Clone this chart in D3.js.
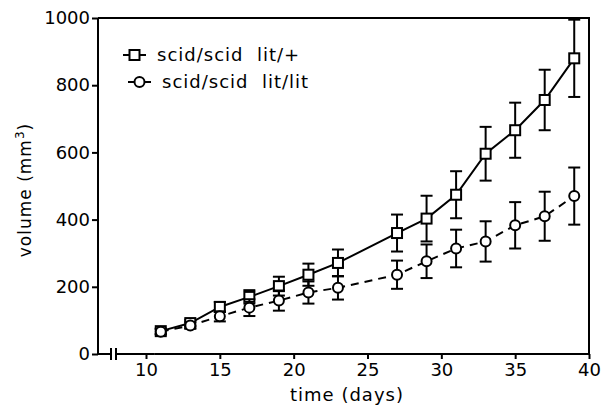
<!DOCTYPE html>
<html>
<head>
<meta charset="utf-8">
<script src="https://cdn.jsdelivr.net/npm/d3@7"></script>
<style>
  body { margin: 0; background: #fff; }
  svg { display: block; }
  text { font-family: "DejaVu Sans", sans-serif; fill: #000; }
</style>
</head>
<body>
<div id="chart"></div>
<script>
// datos
const days = [11, 13, 15, 17, 19, 21, 23, 27, 29, 31, 33, 35, 37, 39];
const litPlus = [68, 92, 140, 170, 202, 236, 271, 360, 403, 474, 596, 666, 756, 880];
const litPlusErr = [8, 10, 15, 20, 28, 33, 40, 55, 68, 70, 80, 82, 90, 115];
const litLit = [66, 85, 112, 138, 159, 183, 197, 236, 276, 314, 335, 383, 410, 470];
const litLitErr = [8, 10, 15, 25, 30, 33, 35, 42, 50, 56, 60, 69, 73, 85];
const xTicks = [10, 15, 20, 25, 30, 35, 40];
const yTicks = [0, 200, 400, 600, 800, 1000];
const legendLabels = ["scid/scid  lit/+", "scid/scid  lit/lit"];

const W = 605, H = 407;
const svg = d3.select("#chart").append("svg").attr("width", W).attr("height", H);

const x = d3.scaleLinear().domain([10, 40]).range([146, 589]);
const y = d3.scaleLinear().domain([0, 1000]).range([354, 18]);
const axisX = x(10) - 48; // eje Y desplazado (con corte en el eje X)

// eje Y
const gy = svg.append("g").attr("transform", `translate(${axisX},0)`)
  .call(d3.axisLeft(y).tickValues(yTicks).tickSize(6).tickPadding(2).tickFormat(d3.format("d")));
gy.select(".domain").attr("d", `M0,${y(0)}V${y(1000)}`);

// eje X
const gx = svg.append("g").attr("transform", `translate(0,${y(0)})`)
  .call(d3.axisBottom(x).tickValues(xTicks).tickSize(5).tickPadding(4));
gx.select(".domain").attr("d", `M${x(10.6)},0H${x(40)}`);

[gx, gy].forEach(g => {
  g.selectAll("path, line").attr("stroke", "#000").attr("stroke-width", 2);
  g.selectAll("text").style("font-size", "18px").attr("fill", "#000");
});

// tramo inicial del eje X y marcas del corte
const brk = svg.append("g").attr("stroke", "#000").attr("stroke-width", 2);
brk.append("line").attr("x1", axisX).attr("x2", axisX + 13).attr("y1", y(0)).attr("y2", y(0));
brk.append("line").attr("x1", axisX + 13).attr("x2", axisX + 13).attr("y1", y(0) - 6).attr("y2", y(0) + 6);
brk.append("line").attr("x1", axisX + 18).attr("x2", axisX + 18).attr("y1", y(0) - 6).attr("y2", y(0) + 6);
brk.append("line").attr("x1", axisX + 18).attr("x2", x(10.6)).attr("y1", y(0)).attr("y2", y(0));

// marco superior y derecho
svg.append("path")
  .attr("d", `M${axisX},${y(1000)}H${x(40)}V${y(0)}`)
  .attr("fill", "none").attr("stroke", "#000").attr("stroke-width", 2);

// títulos de ejes
svg.append("text").attr("x", 347).attr("y", 401).attr("text-anchor", "middle")
  .style("font-size", "18px").style("letter-spacing", "1px").text("time (days)");
const yl = svg.append("text").attr("transform", "translate(31,190) rotate(-90)")
  .attr("text-anchor", "middle").style("font-size", "17px").style("letter-spacing", "1px");
yl.append("tspan").text("volume (mm");
yl.append("tspan").attr("dy", -7).style("font-size", "12px").text("3");
yl.append("tspan").attr("dy", 7).text(")");

const series = [
  { vals: litPlus, err: litPlusErr, dash: null, shape: "square" },
  { vals: litLit, err: litLitErr, dash: "8,6", shape: "circle" }
];

const line = d3.line().x((d, i) => x(days[i])).y(d => y(d));

series.forEach(s => {
  const g = svg.append("g");
  g.append("path").datum(s.vals).attr("d", line)
    .attr("fill", "none").attr("stroke", "#000").attr("stroke-width", 2)
    .attr("stroke-dasharray", s.dash);

  // barras de error
  const eb = g.selectAll(".eb").data(s.vals).enter().append("g")
    .attr("stroke", "#000").attr("stroke-width", 2);
  eb.append("line")
    .attr("x1", (d, i) => x(days[i])).attr("x2", (d, i) => x(days[i]))
    .attr("y1", (d, i) => y(d + s.err[i])).attr("y2", (d, i) => y(d - s.err[i]));
  eb.append("line")
    .attr("x1", (d, i) => x(days[i]) - 6).attr("x2", (d, i) => x(days[i]) + 6)
    .attr("y1", (d, i) => y(d + s.err[i])).attr("y2", (d, i) => y(d + s.err[i]));
  eb.append("line")
    .attr("x1", (d, i) => x(days[i]) - 6).attr("x2", (d, i) => x(days[i]) + 6)
    .attr("y1", (d, i) => y(d - s.err[i])).attr("y2", (d, i) => y(d - s.err[i]));

  // marcadores
  if (s.shape === "square") {
    g.selectAll(".m").data(s.vals).enter().append("rect")
      .attr("x", (d, i) => x(days[i]) - 5).attr("y", d => y(d) - 5)
      .attr("width", 10).attr("height", 10)
      .attr("fill", "#fff").attr("stroke", "#000").attr("stroke-width", 2);
  } else {
    g.selectAll(".m").data(s.vals).enter().append("circle")
      .attr("cx", (d, i) => x(days[i])).attr("cy", d => y(d)).attr("r", 5)
      .attr("fill", "#fff").attr("stroke", "#000").attr("stroke-width", 2);
  }
});

// leyenda
const leg = [{ x0: 123, y0: 55, shape: "square" }, { x0: 128, y0: 82, shape: "circle" }];
leg.forEach((l, i) => {
  const g = svg.append("g");
  g.append("line").attr("x1", l.x0).attr("x2", l.x0 + 23).attr("y1", l.y0).attr("y2", l.y0)
    .attr("stroke", "#000").attr("stroke-width", 2);
  if (l.shape === "square") {
    g.append("rect").attr("x", l.x0 + 6.5).attr("y", l.y0 - 5).attr("width", 10).attr("height", 10)
      .attr("fill", "#fff").attr("stroke", "#000").attr("stroke-width", 2);
  } else {
    g.append("circle").attr("cx", l.x0 + 11.5).attr("cy", l.y0).attr("r", 5)
      .attr("fill", "#fff").attr("stroke", "#000").attr("stroke-width", 2);
  }
  g.append("text").attr("x", l.x0 + 34).attr("y", l.y0 + 6)
    .style("font-size", "18px").style("letter-spacing", "1px")
    .style("white-space", "pre").text(legendLabels[i]);
});
</script>
</body>
</html>
